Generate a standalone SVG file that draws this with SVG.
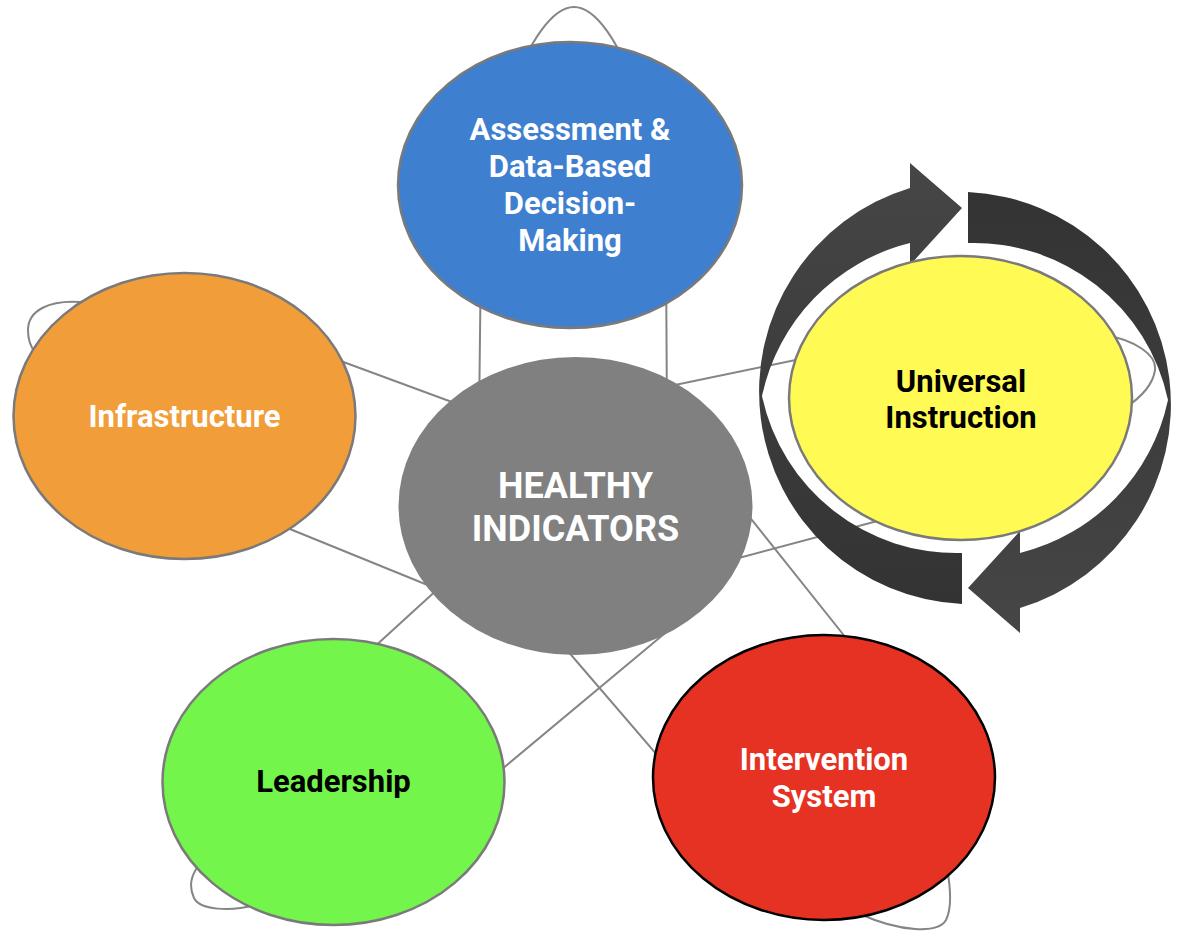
<svg xmlns="http://www.w3.org/2000/svg" width="1180" height="936" viewBox="0 0 1180 936">
  <defs>
    <linearGradient id="arrowFill" x1="0" y1="0" x2="0" y2="1">
      <stop offset="0" stop-color="#464646"/>
      <stop offset="1" stop-color="#333333"/>
    </linearGradient>
    <path id="cycleArrow" d="M 962 604 A 212.7 212.7 0 0 1 910 188 L 910 163 L 962 208 L 910 265 L 910 243 A 200.8 200.8 0 0 0 762 396 A 198.5 198.5 0 0 0 962 553 Z"/>
  </defs>
  <style>
    .conn { fill: none; stroke: #858585; stroke-width: 2; stroke-linejoin: round; }
    .node { stroke: #7a7a7a; stroke-width: 2.5; }
    .lbl { font-family: Roboto, "Liberation Sans", Arial, sans-serif; font-weight: bold; font-size: 31px; text-anchor: middle; }
    .big { font-size: 36px; }
    .white { fill: #ffffff; }
    .black { fill: #000000; }
  </style>
  <rect width="1180" height="936" fill="#ffffff"/>

  <g id="connectors">
    <path class="conn" d="M 479 420 L 481 250 C 481 150 530 7 574 7 C 618 7 666 150 666 250 L 667 420"/>
    <path class="conn" d="M 460 405 L 300 346 C 200 310 120 296 80 302 C 50 300 28 310 28 330 C 28 340 30 346 35 352 L 280 525 L 430 586"/>
    <path class="conn" d="M 440 587 L 360 660 L 255 905 C 230 912 200 910 194 898 C 188 885 192 875 198 866 L 495 775 L 670 629"/>
    <path class="conn" d="M 740 505 L 850 643 L 947 868 C 951 890 951 910 946 920 C 938 934 900 932 860 914 L 670 770 L 560 642"/>
    <path class="conn" d="M 670 386 L 810 357 L 1105 335 C 1135 340 1157 355 1155 370 C 1153 385 1140 398 1125 408 L 900 515 L 735 559"/>
  </g>

  <g id="cycle-arrows" fill="url(#arrowFill)">
    <use href="#cycleArrow"/>
    <use href="#cycleArrow" transform="rotate(180 965 398)"/>
  </g>

  <g id="node-assessment">
    <ellipse class="node" cx="570" cy="185" rx="172" ry="143" fill="#3e7fcf"/>
    <text class="lbl white" x="570" y="140">Assessment &amp;</text>
    <text class="lbl white" x="570" y="177">Data-Based</text>
    <text class="lbl white" x="570" y="214">Decision-</text>
    <text class="lbl white" x="570" y="251">Making</text>
  </g>

  <g id="node-infrastructure">
    <ellipse class="node" cx="184.5" cy="416" rx="171" ry="143" fill="#f19d39"/>
    <text class="lbl white" x="184.5" y="427">Infrastructure</text>
  </g>

  <g id="node-leadership">
    <ellipse class="node" cx="333.5" cy="782" rx="171" ry="143" fill="#73f54b"/>
    <text class="lbl black" x="333.5" y="792">Leadership</text>
  </g>

  <g id="node-intervention">
    <ellipse cx="824" cy="777.5" rx="171" ry="142.5" fill="#e53222" stroke="#000000" stroke-width="2.5"/>
    <text class="lbl white" x="824" y="770">Intervention</text>
    <text class="lbl white" x="824" y="807">System</text>
  </g>

  <g id="node-universal">
    <ellipse class="node" cx="960.5" cy="398" rx="171.5" ry="142" fill="#fffb54"/>
    <text class="lbl black" x="961" y="392">Universal</text>
    <text class="lbl black" x="961" y="428">Instruction</text>
  </g>

  <g id="node-healthy">
    <ellipse cx="575.5" cy="506" rx="177" ry="149" fill="#808080"/>
    <text class="lbl white big" x="575.5" y="498">HEALTHY</text>
    <text class="lbl white big" x="575.5" y="541">INDICATORS</text>
  </g>
</svg>
